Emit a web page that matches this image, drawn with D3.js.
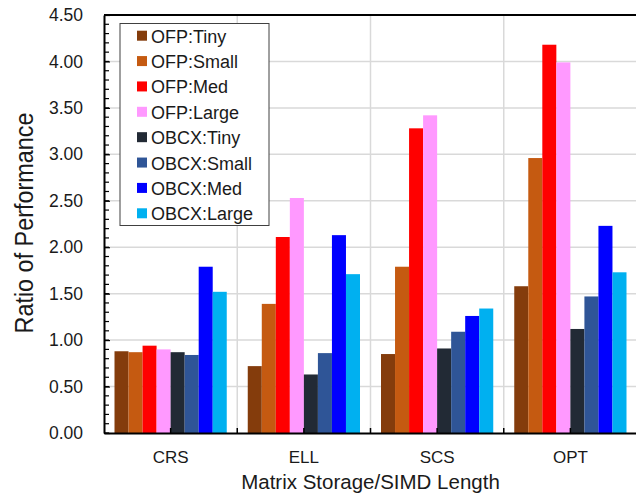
<!DOCTYPE html>
<html>
<head>
<meta charset="utf-8">
<script src="https://cdn.jsdelivr.net/npm/d3@7"></script>
<style>
  html, body { margin: 0; background: #fff; overflow: hidden; }
  svg { display: block; overflow: hidden; font-family: "Liberation Sans", Arial, sans-serif; }
</style>
</head>
<body>
<div class="chart"></div>
<script>
// Categories and series
const categories = ['CRS', 'ELL', 'SCS', 'OPT'];
const seriesNames = ['OFP:Tiny', 'OFP:Small', 'OFP:Med', 'OFP:Large',
  'OBCX:Tiny', 'OBCX:Small', 'OBCX:Med', 'OBCX:Large'];
const seriesColors = ['#843c0c', '#c55a11', '#ff0000', '#ff99ff',
  '#222a35', '#2f5597', '#0000ff', '#00b0f0'];

// Ratio values per series, in category order
const ofpTiny = [0.88, 0.72, 0.85, 1.58];
const ofpSmall = [0.87, 1.39, 1.79, 2.96];
const ofpMed = [0.94, 2.11, 3.28, 4.18];
const ofpLarge = [0.90, 2.53, 3.42, 3.99];
const obcxTiny = [0.87, 0.63, 0.91, 1.12];
const obcxSmall = [0.84, 0.86, 1.09, 1.47];
const obcxMed = [1.79, 2.13, 1.26, 2.23];
const obcxLarge = [1.52, 1.71, 1.34, 1.73];

const yTicks = [0, 0.5, 1, 1.5, 2, 2.5, 3, 3.5, 4, 4.5];

const allValues = [ofpTiny, ofpSmall, ofpMed, ofpLarge, obcxTiny, obcxSmall, obcxMed, obcxLarge];

// SVG dimensions
const width = 636;
const height = 496;
const plot = { left: 104, right: 637, top: 15, bottom: 433 };

const svg = d3.select('.chart')
  .append('svg')
  .attr('width', width)
  .attr('height', height);

// Scales
const x = d3.scaleBand().domain(categories).range([plot.left, plot.right]);
const xInner = d3.scaleBand().domain(seriesNames).range([10.5, x.bandwidth() - 10.5]);
const y = d3.scaleLinear().domain([0, 4.5]).range([plot.bottom, plot.top]);

// Horizontal gridlines
svg.append('g')
  .selectAll('line')
  .data(yTicks.slice(1, -1))
  .join('line')
  .attr('x1', plot.left)
  .attr('x2', plot.right)
  .attr('y1', d => y(d))
  .attr('y2', d => y(d))
  .attr('stroke', '#d9d9d9')
  .attr('stroke-width', 1.5);

// Vertical gridlines at category boundaries
svg.append('g')
  .selectAll('line')
  .data(categories.slice(1))
  .join('line')
  .attr('x1', d => x(d))
  .attr('x2', d => x(d))
  .attr('y1', plot.top)
  .attr('y2', plot.bottom)
  .attr('stroke', '#d9d9d9')
  .attr('stroke-width', 1.5);

// Bars
const rows = categories.map((c, i) => ({ cat: c, vals: allValues.map(s => s[i]) }));

svg.append('g')
  .selectAll('g')
  .data(rows)
  .join('g')
  .attr('transform', d => `translate(${x(d.cat)},0)`)
  .selectAll('rect')
  .data(d => d.vals.map((v, j) => ({ name: seriesNames[j], value: v, color: seriesColors[j] })))
  .join('rect')
  .attr('x', d => xInner(d.name))
  .attr('width', xInner.bandwidth())
  .attr('y', d => y(d.value))
  .attr('height', d => y(0) - y(d.value))
  .attr('fill', d => d.color);

// Minor y ticks (pointing into the plot)
svg.append('g')
  .selectAll('line')
  .data(d3.range(0, 46).map(i => i / 10))
  .join('line')
  .attr('x1', plot.left)
  .attr('x2', plot.left + 5)
  .attr('y1', d => y(d))
  .attr('y2', d => y(d))
  .attr('stroke', '#000')
  .attr('stroke-width', 1.2);

// Y axis with labels
svg.append('g')
  .attr('transform', `translate(${plot.left},0)`)
  .call(d3.axisLeft(y).tickValues(yTicks).tickFormat(d3.format('.2f')).tickSizeInner(-6).tickSizeOuter(0).tickPadding(21))
  .call(g => g.select('.domain').attr('stroke', '#000').attr('stroke-width', 2))
  .call(g => g.selectAll('line').attr('stroke', '#000').attr('stroke-width', 1.2))
  .call(g => g.selectAll('text').attr('font-size', '17.5px').attr('fill', '#1a1a1a').attr('font-family', null));

// Top border
svg.append('line')
  .attr('x1', plot.left)
  .attr('x2', plot.right)
  .attr('y1', plot.top)
  .attr('y2', plot.top)
  .attr('stroke', '#000')
  .attr('stroke-width', 2);

// X axis
svg.append('g')
  .attr('transform', `translate(0,${plot.bottom})`)
  .call(d3.axisBottom(x).tickSize(0).tickPadding(17.6))
  .call(g => g.select('.domain').attr('stroke', '#000').attr('stroke-width', 2))
  .call(g => g.selectAll('text').attr('font-size', '17px').attr('fill', '#1a1a1a').attr('font-family', null));

// Inward x ticks at category boundaries and centers
const xTickPos = categories.flatMap(c => [x(c), x(c) + x.bandwidth() / 2]).slice(1);
svg.append('g')
  .selectAll('line')
  .data(xTickPos)
  .join('line')
  .attr('x1', d => d)
  .attr('x2', d => d)
  .attr('y1', plot.bottom)
  .attr('y2', plot.bottom - 5)
  .attr('stroke', '#000')
  .attr('stroke-width', 1.5);

// Axis titles
svg.append('text')
  .attr('x', (plot.left + plot.right) / 2)
  .attr('y', 489)
  .attr('text-anchor', 'middle')
  .attr('font-size', '20.5px')
  .attr('fill', '#1a1a1a')
  .text('Matrix Storage/SIMD Length');

svg.append('text')
  .attr('transform', `translate(33,${(plot.top + plot.bottom) / 2 - 1}) rotate(-90) scale(1,1.1)`)
  .attr('text-anchor', 'middle')
  .attr('font-size', '23.4px')
  .attr('fill', '#1a1a1a')
  .text('Ratio of Performance');

// Legend
const legend = svg.append('g').attr('transform', 'translate(120,23.5)');

legend.append('rect')
  .attr('width', 149)
  .attr('height', 202)
  .attr('fill', '#fff')
  .attr('stroke', '#404040')
  .attr('stroke-width', 1);

const item = legend.selectAll('g.item')
  .data(seriesNames)
  .join('g')
  .attr('class', 'item')
  .attr('transform', (d, i) => `translate(0,${12.2 + i * 25.37})`);

item.append('rect')
  .attr('x', 17)
  .attr('y', -5)
  .attr('width', 10)
  .attr('height', 10)
  .attr('fill', (d, i) => seriesColors[i]);

item.append('text')
  .attr('x', 31)
  .attr('y', 7)
  .attr('font-size', '18px')
  .attr('fill', '#1a1a1a')
  .text(d => d);
</script>
</body>
</html>
